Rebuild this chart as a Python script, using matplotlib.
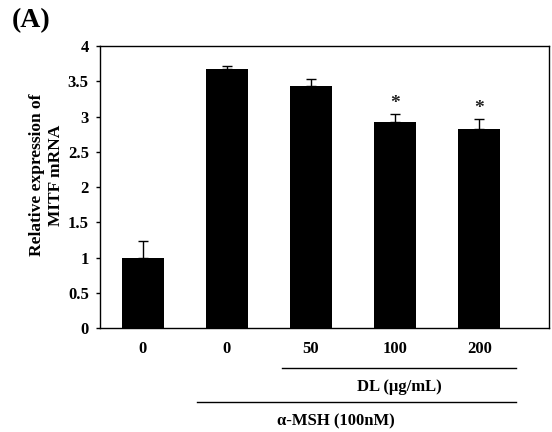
import matplotlib
matplotlib.use("Agg")
import matplotlib.pyplot as plt
import matplotlib.transforms as mtransforms

# ── Data ─────────────────────────────────────────────────────────────
tick_labels = ["0", "0", "50", "100", "200"]
values = [1.00, 3.68, 3.43, 2.92, 2.82]
errors = [0.23, 0.03, 0.10, 0.11, 0.14]
significant = [False, False, False, True, True]
y_ticks = [0, 0.5, 1, 1.5, 2, 2.5, 3, 3.5, 4]
y_tick_labels = ["0", "0.5", "1", "1.5", "2", "2.5", "3", "3.5", "4"]

plt.rcParams["font.family"] = ["Liberation Serif", "DejaVu Serif"]
plt.rcParams["font.weight"] = "bold"

fig = plt.figure(figsize=(5.52, 4.32), dpi=100)
ax = fig.add_axes([0.181, 0.2407, 0.8136, 0.6528])

x = list(range(len(values)))
ax.bar(x, values, width=0.5, color="black", zorder=2)
ax.errorbar(x, values, yerr=[[0] * len(errors), errors], fmt="none",
            ecolor="black", elinewidth=1, capsize=3.5, capthick=1, zorder=3)

for xi, v, e, s in zip(x, values, errors, significant):
    if s:
        ax.text(xi, v + e + 0.16, "*", ha="center", va="center",
                fontsize=14, fontweight="bold", color="#222222")

ax.set_xlim(-0.51, 4.83)
ax.set_ylim(0, 4)
ax.set_yticks(y_ticks)
ax.set_yticklabels(y_tick_labels, fontsize=12, fontweight="bold")
ax.set_xticks(x)
ax.set_xticklabels(tick_labels, fontsize=12, fontweight="bold")
ax.tick_params(axis="x", length=0, pad=9)
ax.tick_params(axis="y", length=3, width=1, direction="out", pad=5)
for sp in ax.spines.values():
    sp.set_linewidth(1)

ax.text(-0.119, 0.543, "Relative expression of\nMITF mRNA", transform=ax.transAxes,
        rotation=90, ha="center", va="center", fontsize=12.5, fontweight="bold",
        linespacing=1.2)

# ── Group annotations under the axis ─────────────────────────────────
trans = mtransforms.blended_transform_factory(ax.transData, ax.transAxes)
ax.plot([1.65, 4.44], [-0.141, -0.141], color="black", lw=1,
        transform=trans, clip_on=False)
ax.text(3.05, -0.209, "DL (\u03bcg/mL)", transform=trans, ha="center", va="center",
        fontsize=12, fontweight="bold")
ax.plot([0.64, 4.44], [-0.262, -0.262], color="black", lw=1,
        transform=trans, clip_on=False)
ax.text(2.3, -0.33, "\u03b1-MSH (100nM)", transform=trans, ha="center", va="center",
        fontsize=12, fontweight="bold")

fig.text(0.022, 0.953, "(A)", fontsize=20, fontweight="bold", ha="left", va="center")

fig.savefig("out.png", dpi=100)
